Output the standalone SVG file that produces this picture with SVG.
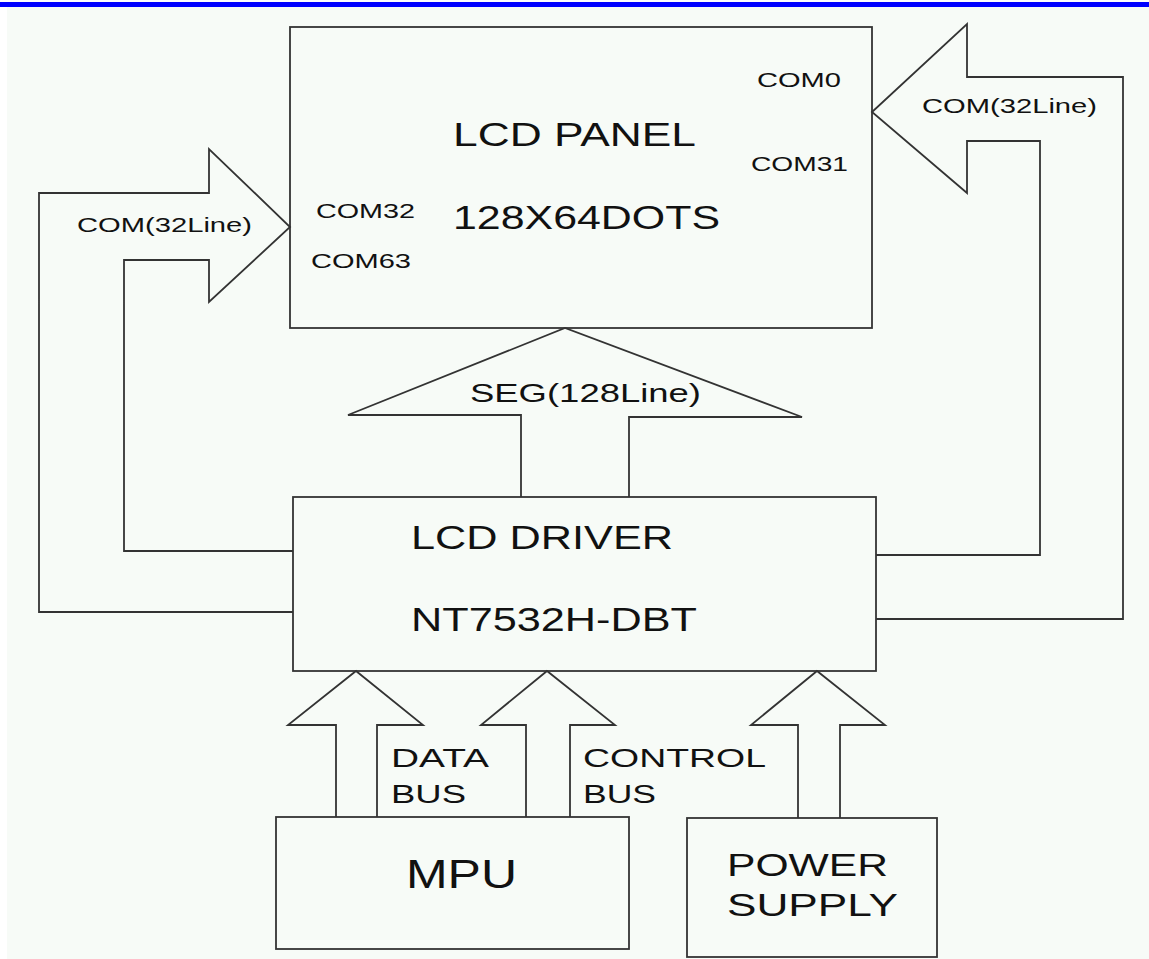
<svg xmlns="http://www.w3.org/2000/svg" width="1149" height="959" viewBox="0 0 1149 959">
<style>
.box{fill:none;stroke:#333;stroke-width:1.8}
.ln{fill:none;stroke:#333;stroke-width:1.8;stroke-linejoin:miter}
text{font-family:"Liberation Sans",Arial,sans-serif;fill:#111}
</style>
<rect x="0" y="0" width="1149" height="959" fill="#ffffff"/>
<rect x="7" y="7" width="1142" height="952" fill="#f7fbf7"/>
<rect x="0" y="2" width="1149" height="5" fill="#0000ff"/>

<g id="connectors">
<polyline class="ln" points="293,612 39,612 39,193 209,193 209,149 290,227 209,302 209,260 124,260 124,551 293,551"/>
<polyline class="ln" points="876,619 1123,619 1123,77 967,77 967,24 872,112 967,193 967,141 1040,141 1040,555 876,555"/>
<polyline class="ln" points="521,497 521,415 348,415 565,328 802,417 629,417 629,497"/>
<polyline class="ln" points="336,817 336,725 288,725 356,671 423,725 377,725 377,817"/>
<polyline class="ln" points="526,817 526,725 481,725 547,671 615,725 570,725 570,817"/>
<polyline class="ln" points="798,818 798,725 751,725 817,671 885,725 840,725 840,818"/>
<text x="77" y="232" font-size="21" textLength="175" lengthAdjust="spacingAndGlyphs">COM(32Line)</text>
<text x="922" y="113" font-size="21" textLength="175" lengthAdjust="spacingAndGlyphs">COM(32Line)</text>
<text x="470" y="402" font-size="25" textLength="231" lengthAdjust="spacingAndGlyphs">SEG(128Line)</text>
<text x="391" y="767" font-size="26" textLength="98" lengthAdjust="spacingAndGlyphs">DATA</text>
<text x="391" y="803" font-size="26" textLength="75" lengthAdjust="spacingAndGlyphs">BUS</text>
<text x="583" y="767" font-size="26" textLength="183" lengthAdjust="spacingAndGlyphs">CONTROL</text>
<text x="583" y="803" font-size="26" textLength="73" lengthAdjust="spacingAndGlyphs">BUS</text>
</g>

<g id="lcd-panel">
<rect class="box" x="290" y="27" width="582" height="301"/>
<text x="453" y="146" font-size="33" textLength="243" lengthAdjust="spacingAndGlyphs">LCD PANEL</text>
<text x="453" y="229" font-size="33" textLength="267" lengthAdjust="spacingAndGlyphs">128X64DOTS</text>
<text x="757" y="87" font-size="20" textLength="84" lengthAdjust="spacingAndGlyphs">COM0</text>
<text x="751" y="171" font-size="20" textLength="97" lengthAdjust="spacingAndGlyphs">COM31</text>
<text x="316" y="218" font-size="20" textLength="99" lengthAdjust="spacingAndGlyphs">COM32</text>
<text x="311" y="268" font-size="20" textLength="100" lengthAdjust="spacingAndGlyphs">COM63</text>
</g>

<g id="lcd-driver">
<rect class="box" x="293" y="497" width="583" height="174"/>
<text x="411" y="549" font-size="34" textLength="262" lengthAdjust="spacingAndGlyphs">LCD DRIVER</text>
<text x="411" y="631" font-size="33" textLength="286" lengthAdjust="spacingAndGlyphs">NT7532H-DBT</text>
</g>

<g id="mpu">
<rect class="box" x="276" y="817" width="353" height="132"/>
<text x="406" y="888" font-size="40" textLength="111" lengthAdjust="spacingAndGlyphs">MPU</text>
</g>

<g id="power-supply">
<rect class="box" x="687" y="818" width="250" height="139"/>
<text x="727" y="876" font-size="31" textLength="161" lengthAdjust="spacingAndGlyphs">POWER</text>
<text x="727" y="916" font-size="31" textLength="171" lengthAdjust="spacingAndGlyphs">SUPPLY</text>
</g>
</svg>
